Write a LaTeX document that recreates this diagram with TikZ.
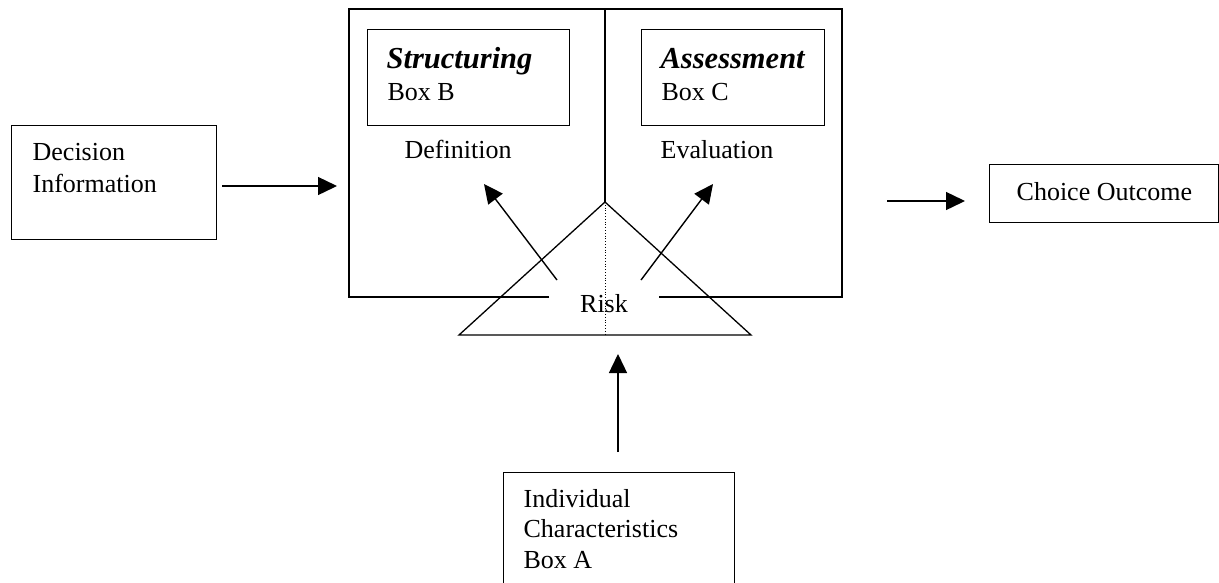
\documentclass[tikz,border=0pt]{standalone}
\usepackage{fontspec}
\setmainfont{Liberation Serif}
\usetikzlibrary{arrows.meta}
\begin{document}
\begin{tikzpicture}[x=1pt,y=-1pt, line width=1.3pt,
  lbl/.style={anchor=base west, inner sep=0pt, font=\fontsize{26}{31}\selectfont},
  ttl/.style={lbl, font=\fontsize{30.5}{36}\selectfont\bfseries\itshape},
  boxn/.style={draw, anchor=north west, inner sep=0pt},
  arr/.style={-{Triangle[length=19pt,width=18pt]}, line width=1.4pt}]
\useasboundingbox (0,0) rectangle (1219,582);
\clip (0,0) rectangle (1219,582);
% main two-part box (open at the bottom around Risk)
\coordinate (mtl) at (349,9);
\coordinate (mtr) at (842,9);
\coordinate (mbl) at (349,297);
\coordinate (mbr) at (842,297);
\coordinate (gapl) at (549,297);
\coordinate (gapr) at (659,297);
\coordinate (divtop) at (605,9);
\draw (gapl) -- (mbl) -- (mtl) -- (mtr) -- (mbr) -- (gapr);
% triangle
\coordinate (apex) at (605,202);
\coordinate (tl) at (459,335);
\coordinate (tr) at (751,335);
\coordinate (tbase) at (605,335);
\draw (divtop) -- (apex);
\draw (tl) -- (apex) -- (tr) -- cycle;
\draw[line width=0.8pt, dotted] (apex) -- (tbase);
\node[lbl, anchor=base] (risk) at (604,312) {Risk};
% inner boxes
\node[boxn, minimum width=202pt, minimum height=96pt] (boxb) at (367,29) {};
\node[boxn, minimum width=183pt, minimum height=96pt] (boxc) at (641,29) {};
\node[ttl] (struct) at (386,68) {Structuring};
\node[lbl] (bb) at (387,100) {Box B};
\node[ttl] (assess) at (660,68) {Assessment};
\node[lbl] (bc) at (661,100) {Box C};
\node[lbl] (defn) at (404,158) {Definition};
\node[lbl] (evalu) at (660,158) {Evaluation};
% risk arrows
\coordinate (la0) at (557,280);
\coordinate (la1) at (484,184);
\coordinate (ra0) at (641,280);
\coordinate (ra1) at (713,184);
\draw[arr] (la0) -- (la1);
\draw[arr] (ra0) -- (ra1);
% decision information
\node[boxn, minimum width=205pt, minimum height=114pt] (dec) at (11,125) {};
\node[lbl] (dec1) at (32,160) {Decision};
\node[lbl] (dec2) at (32,192) {Information};
\coordinate (da0) at (222,186);
\coordinate (da1) at (337,186);
\draw[arr] (da0) -- (da1);
% choice outcome
\node[boxn, minimum width=229pt, minimum height=58pt] (choice) at (989,164) {};
\node[lbl] (ch) at (1016,200) {Choice Outcome};
\coordinate (ca0) at (887,201);
\coordinate (ca1) at (965,201);
\draw[arr] (ca0) -- (ca1);
% individual characteristics
\node[boxn, minimum width=231pt, minimum height=130pt] (ind) at (503,472) {};
\node[lbl] (ind1) at (523,507) {Individual};
\node[lbl] (ind2) at (523,537) {Characteristics};
\node[lbl] (ind3) at (523,568) {Box A};
\coordinate (ia0) at (618,452);
\coordinate (ia1) at (618,354);
\draw[arr] (ia0) -- (ia1);
\end{tikzpicture}
\end{document}
